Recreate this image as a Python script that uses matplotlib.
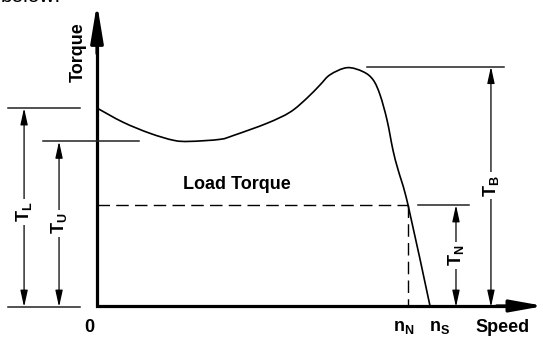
import numpy as np
import matplotlib
matplotlib.use("Agg")
import matplotlib.pyplot as plt
from matplotlib.path import Path
from matplotlib.patches import PathPatch

plt.rcParams["font.family"] = ["Liberation Sans", "DejaVu Sans"]
plt.rcParams["mathtext.fontset"] = "custom"
plt.rcParams["mathtext.rm"] = "Liberation Sans:bold"
plt.rcParams["mathtext.it"] = "Liberation Sans:bold"
plt.rcParams["mathtext.bf"] = "Liberation Sans:bold"

# Motor torque-speed characteristic (speed in % of synchronous, torque in p.u. of rated)
speed = [0, 7.8, 15.9, 23.1, 27.9, 36.9, 41.1, 51.1, 58.0, 63.1, 67.0, 70.0,
         75.1, 79.9, 82.9, 85.0, 87.1, 88.9, 90.4, 93.4, 100.0]
torque = [1.96, 1.82, 1.71, 1.64, 1.63, 1.65, 1.69, 1.81, 1.92, 2.06, 2.19, 2.29,
          2.36, 2.32, 2.24, 2.09, 1.84, 1.54, 1.35, 1.00, 0.0]

T_L = 1.96   # locked-rotor torque
T_U = 1.63   # pull-up torque
T_B = 2.37   # breakdown torque
T_N = 1.00   # rated (load) torque
n_N = 93.4   # rated speed
n_S = 100.0  # synchronous speed

fig = plt.figure(figsize=(5.45, 3.38), dpi=100)
ax = fig.add_axes([0, 0, 1, 1])
ax.set_xlim(-29.13, 134.53)
ax.set_ylim(-0.317, 3.03)
ax.axis("off")


def smooth_path(xs, ys):
    """Catmull-Rom curve through the points, expressed as cubic Bezier segments."""
    pts = np.column_stack([xs, ys]).astype(float)
    verts = [pts[0]]
    codes = [Path.MOVETO]
    n = len(pts)
    for i in range(n - 1):
        p0 = pts[i - 1] if i > 0 else pts[i]
        p1 = pts[i]
        p2 = pts[i + 1]
        p3 = pts[i + 2] if i + 2 < n else pts[i + 1]
        c1 = p1 + (p2 - p0) / 6.0
        c2 = p2 - (p3 - p1) / 6.0
        verts += [c1, c2, p2]
        codes += [Path.CURVE4] * 3
    return Path(verts, codes)


# axes
ax.plot([0, 0, 128], [2.8, 0, 0], color="black", lw=2.3,
        solid_joinstyle="miter", solid_capstyle="butt")
ax.annotate("", xy=(0, 2.995), xytext=(0, 2.5),
            arrowprops=dict(arrowstyle="-|>,head_length=2.3,head_width=0.38",
                            lw=2.3, color="black", mutation_scale=10,
                            shrinkA=0, shrinkB=0))
ax.annotate("", xy=(134.2, 0), xytext=(120, 0),
            arrowprops=dict(arrowstyle="-|>,head_length=2.0,head_width=0.36",
                            lw=2.3, color="black", mutation_scale=10,
                            shrinkA=0, shrinkB=0))

# torque-speed curve
ax.add_patch(PathPatch(smooth_path(speed, torque), facecolor="none",
                       edgecolor="black", lw=1.2))

# load torque and rated speed
ax.plot([0, n_N], [T_N, T_N], color="black", lw=1.0, dashes=(9, 4.5))
ax.plot([n_N, n_N], [T_N, 0], color="black", lw=1.0, dashes=(9, 4.5))

# reference lines
line_kw = dict(color="#222222", lw=1.1)
ax.plot([-26.7, -5.1], [T_L, T_L], **line_kw)
ax.plot([-16.2, 12.6], [T_U, T_U], **line_kw)
ax.plot([-26.7, -5.1], [-0.01, -0.01], **line_kw)
ax.plot([81.1, 122.2], [T_B, T_B], **line_kw)
ax.plot([96.4, 111.7], [T_N, T_N], **line_kw)

dim_kw = dict(arrowstyle="<|-|>,head_length=1.0,head_width=0.22",
              lw=0.9, color="black", mutation_scale=10, shrinkA=0, shrinkB=0)
label_box = dict(facecolor="white", edgecolor="none", pad=2)
lbl_kw = dict(rotation=90, ha="center", va="center", fontsize=13,
              fontweight="bold", bbox=label_box)

for xpos, top, label, ypos in [(-21.9, T_L, r"T$_\mathrm{L}$", 0.93),
                                (-11.4, T_U, r"T$_\mathrm{U}$", 0.82),
                                (107.8, T_N, r"T$_\mathrm{N}$", 0.50),
                                (118.3, T_B, r"T$_\mathrm{B}$", 1.19)]:
    ax.annotate("", xy=(xpos, top), xytext=(xpos, -0.01), arrowprops=dim_kw)
    ax.text(xpos, ypos, label, **lbl_kw)

# text
bold = dict(fontsize=13, fontweight="bold")
ax.text(-5.7, 2.51, "Torque", rotation=90, ha="center", va="center", **bold)
ax.text(42, 1.20, "Load Torque", ha="center", va="center", **bold)
ax.text(-2.4, -0.21, "0", ha="center", va="center", **bold)
ax.text(92.2, -0.21, r"n$_\mathrm{N}$", ha="center", va="center", **bold)
ax.text(103.0, -0.21, r"n$_\mathrm{S}$", ha="center", va="center", **bold)
ax.text(121.9, -0.21, "Speed", ha="center", va="center", **bold)

fig.text(0.002, 1 - 2.5 / 338, "below:", ha="left", va="baseline", fontsize=15)

fig.savefig("out.png", dpi=100)
